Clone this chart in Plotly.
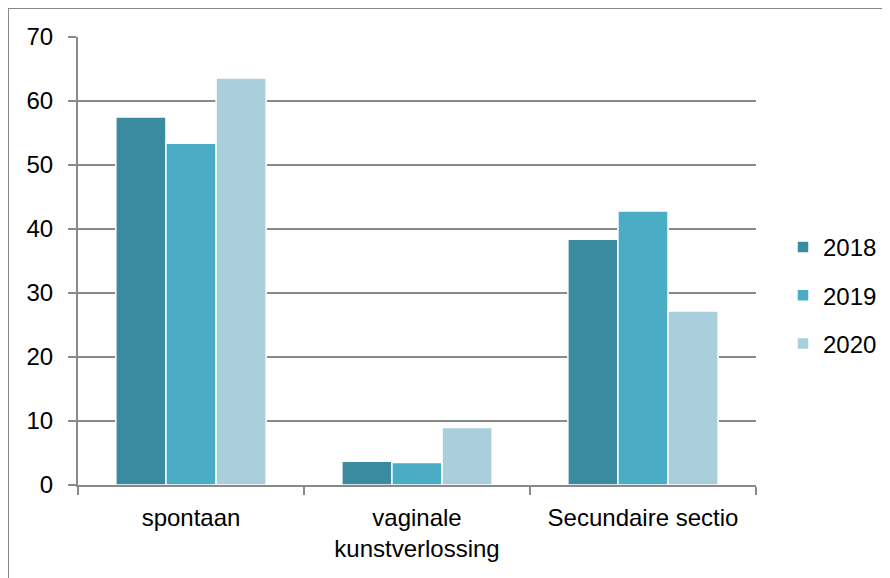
import plotly.graph_objects as go

categories = ["spontaan", "vaginale<br>kunstverlossing", "Secundaire sectio"]
series_names = ["2018", "2019", "2020"]
values_2018 = [57.5, 3.7, 38.4]
values_2019 = [53.4, 3.5, 42.8]
values_2020 = [63.6, 9.0, 27.2]
y_ticks = [0, 10, 20, 30, 40, 50, 60, 70]

colors = ["#3A8AA0", "#4BACC6", "#A9CFDD"]
series_values = [values_2018, values_2019, values_2020]

fig = go.Figure()
for name, vals, col in zip(series_names, series_values, colors):
    fig.add_trace(go.Bar(
        x=categories, y=vals, name=name, legendgroup=name,
        marker=dict(color=col, line=dict(color="white", width=1.5)),
    ))

OFF = 8  # page body margin
W, H = 890 - OFF, 578 - OFF
L, T = 78 - OFF, 37 - OFF
pw, ph = 678, 448
R, B = W - L - pw, H - T - ph

def px(x):
    return (x - OFF - L) / pw

def py(y):
    return (H - B - (y - OFF)) / ph

fig.add_shape(type="path",
              path=f"M {px(8)} {py(590)} L {px(8)} {py(8)} L {px(900)} {py(8)}",
              xref="paper", yref="paper",
              line=dict(color="#888888", width=2))

font = dict(family="Liberation Sans, Arial, sans-serif", size=24, color="#000000")

fig.update_layout(
    width=W, height=H,
    margin=dict(l=L, r=R, t=T, b=B, autoexpand=False),
    paper_bgcolor="white", plot_bgcolor="white",
    barmode="group", bargap=0.335, bargroupgap=0,
    font=font,
    showlegend=True,
    legend=dict(x=px(882), y=py(225), xanchor="right", yanchor="top",
                font=font, itemwidth=30, tracegroupgap=14,
                bgcolor="rgba(0,0,0,0)"),
    xaxis=dict(
        showgrid=False, showline=True, linecolor="#898989", linewidth=2,
        ticks="outside", tickson="boundaries", ticklen=8, tickcolor="#898989", tickwidth=2,
        tickfont=font, ticklabelstandoff=10,
    ),
    yaxis=dict(
        range=[0, 70], tickvals=y_ticks,
        showgrid=True, gridcolor="#898989", gridwidth=2,
        showline=True, linecolor="#898989", linewidth=2,
        ticks="outside", ticklen=8, tickcolor="#898989", tickwidth=2,
        tickfont=font, zeroline=False, ticklabelstandoff=10,
    ),
)

fig.write_html("out.html")
